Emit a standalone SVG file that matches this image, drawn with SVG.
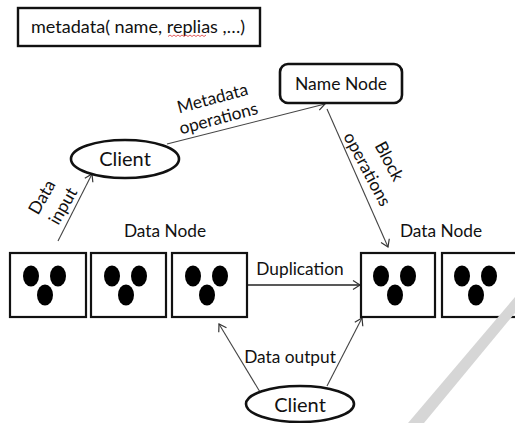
<svg xmlns="http://www.w3.org/2000/svg" width="515" height="423" viewBox="0 0 515 423">
<style>
text{font-family:Lato,"Liberation Sans",sans-serif;font-size:17.300px;fill:#111;text-anchor:middle}
.n{fill:#fff;stroke:#111;stroke-width:2.6}
.c{fill:none;stroke:#444;stroke-width:1.1;marker-end:url(#a)}
.b{fill:#fff;stroke:#111;stroke-width:2.2}
.d{fill:#000}
</style>
<defs>
<marker id="a" markerUnits="userSpaceOnUse" markerWidth="14" markerHeight="14" refX="11" refY="7" orient="auto"><path d="M4 2.5L11 7L4 11.5" fill="none" stroke="#333" stroke-width="1.2"/></marker>
<g id="dots"><ellipse class="d" cx="0" cy="0" rx="8" ry="10.5"/><ellipse class="d" cx="27" cy="0" rx="8" ry="10.5"/><ellipse class="d" cx="14" cy="19" rx="8" ry="10.5"/></g>
</defs>
<rect width="515" height="423" fill="#fff"/>
<g id="meta"><rect x="18" y="8" width="242" height="38" fill="#fff" stroke="#111" stroke-width="2.4"/><text x="138" y="33" textLength="214" lengthAdjust="spacingAndGlyphs" style="font-size:18px">metadata( name, replias ,…)</text><path d="M168 36.500l2-1.500 2 1.500 2-1.500 2 1.500 2-1.500 2 1.500 2-1.500 2 1.500 2-1.500 2 1.500 2-1.500 2 1.500 2-1.500 2 1.500 2-1.500 2 1.500 2-1.500 2 1.500 2-1.500" fill="none" stroke="#d33" stroke-width=".8"/></g>
<g id="connectors">
<path class="c" d="M58 241L92 174"/>
<path class="c" d="M167 144L325 104"/>
<path class="c" d="M327 109L388 247"/>
<path class="c" d="M247 285L360 285" style="stroke:#222;stroke-width:1.500"/>
<path class="c" d="M260 392L219 324"/>
<path class="c" d="M327 386L362 318"/>
</g>
<g id="client1"><ellipse class="n" cx="125" cy="159" rx="54" ry="19"/><text x="125" y="166" style="font-size:20px">Client</text></g>
<g id="namenode"><rect class="n" x="280" y="64" width="122" height="39" rx="8"/><text x="341" y="90" style="font-size:17.500px">Name Node</text></g>
<g id="client2"><ellipse class="n" cx="300" cy="404" rx="54" ry="18"/><text x="300" y="412" style="font-size:20px">Client</text></g>
<g id="dn1"><rect class="b" x="10" y="253" width="76" height="64"/><use href="#dots" x="31" y="276"/></g>
<g id="dn2"><rect class="b" x="91" y="253" width="75" height="64"/><use href="#dots" x="112" y="276"/></g>
<g id="dn3"><rect class="b" x="172" y="253" width="75" height="64"/><use href="#dots" x="193" y="276"/></g>
<g id="dn4"><rect class="b" x="361" y="253" width="74" height="64"/><use href="#dots" x="381" y="276"/></g>
<g id="dn5"><rect class="b" x="442" y="253" width="75" height="64"/><use href="#dots" x="462" y="276"/></g>
<path d="M515 297L515 313L424 423L408 423Z" fill="#d6d6d6"/>
<g id="labels">
<text x="165" y="237">Data Node</text>
<text x="441" y="237">Data Node</text>
<text x="300" y="275">Duplication</text>
<text x="290" y="363">Data output</text>
<text transform="translate(214 104) rotate(-15)">Metadata</text>
<text transform="translate(220 124) rotate(-15)">operations</text>
<text transform="translate(47 200) rotate(-60)">Data</text>
<text transform="translate(68 209) rotate(-60)">input</text>
<text transform="translate(384 164) rotate(62)">Block</text>
<text transform="translate(362 172) rotate(62)">operations</text>
</g>
</svg>
